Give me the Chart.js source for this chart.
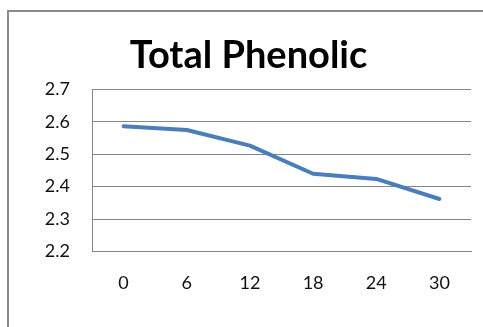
<!DOCTYPE html>
<html>
<head>
<meta charset="utf-8">
<script src="https://cdn.jsdelivr.net/npm/chart.js@4/dist/chart.umd.min.js"></script>
<style>
  html, body { margin: 0; padding: 0; background: #fff; }
  #wrap { position: relative; width: 483px; height: 327px; overflow: hidden; }
  #frame { position: absolute; left: 7px; top: 10px; width: 500px; height: 400px;
           border-left: 2px solid #8a8a8a; border-top: 2px solid #8a8a8a; }
  #chart { position: absolute; left: 0; top: 0; }
</style>
</head>
<body>
<div id="wrap">
  <div id="frame"></div>
  <canvas id="chart" width="483" height="327"></canvas>
</div>
<script>
const days = ['0', '6', '12', '18', '24', '30'];
const phenolic = [2.587, 2.575, 2.527, 2.44, 2.424, 2.362];
const yMin = 2.2, yMax = 2.7, yStep = 0.1;

const GRID = '#868686';
const FONT = 'Lato, "Open Sans", sans-serif';

new Chart(document.getElementById('chart'), {
  type: 'line',
  data: {
    labels: days,
    datasets: [{
      label: 'Total Phenolic',
      data: phenolic,
      borderColor: '#4A7EBB',
      borderWidth: 4,
      borderJoinStyle: 'round',
      borderCapStyle: 'round',
      pointRadius: 0,
      tension: 0,
      fill: false,
    }],
  },
  options: {
    responsive: false,
    animation: false,
    devicePixelRatio: 1,
    // left/right padding also shifts the title centre to match the original
    layout: { padding: { left: 26, right: 12, top: 33, bottom: 12 } },
    plugins: {
      legend: { display: false },
      tooltip: { enabled: false },
      title: {
        display: true,
        text: 'Total Phenolic',
        color: '#000',
        font: { family: FONT, size: 38, weight: 'bold', lineHeight: 1.2 },
        padding: { top: 0, bottom: 11 },
      },
    },
    scales: {
      x: {
        offset: true,
        grid: { display: false, drawTicks: false },
        border: { display: true, color: GRID, width: 1 },
        ticks: { color: '#111', font: { family: FONT, size: 18 }, padding: 21 },
      },
      y: {
        min: yMin,
        max: yMax,
        afterFit: s => { s.width = 66; },
        grid: { color: GRID, lineWidth: 1, drawTicks: false },
        border: { display: true, color: GRID, width: 1 },
        ticks: {
          stepSize: yStep,
          color: '#111',
          font: { family: FONT, size: 18 },
          padding: 22,
          callback: v => v.toFixed(1),
        },
      },
    },
  },
});
</script>
</body>
</html>
